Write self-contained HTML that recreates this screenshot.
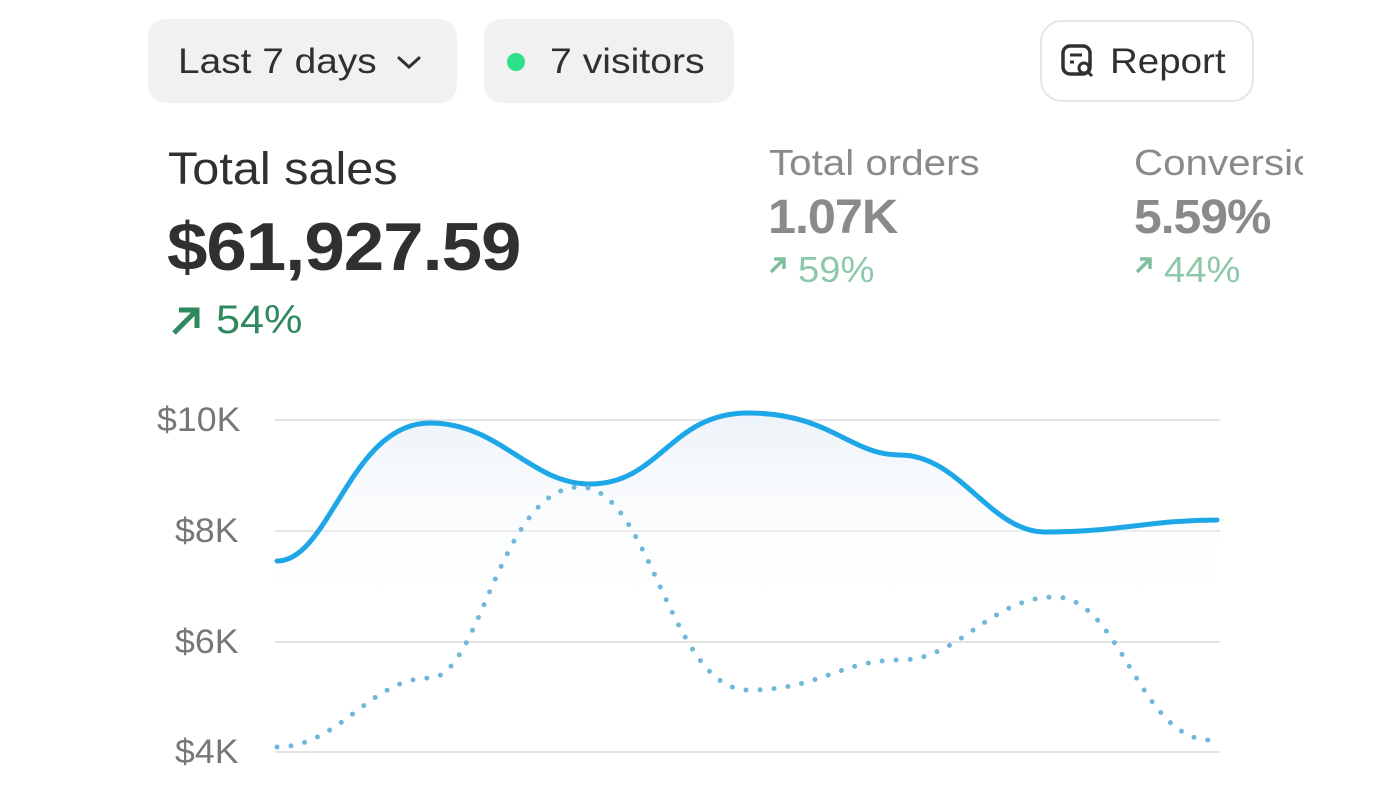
<!DOCTYPE html>
<html><head><meta charset="utf-8"><style>
body{margin:0;width:1400px;height:787px;background:#fff;position:relative;overflow:hidden;font-family:"Liberation Sans",sans-serif;}
.a{position:absolute;white-space:nowrap;transform-origin:0 0;}
.pill{position:absolute;background:#f1f1f1;border-radius:18px;height:84px;top:19px;}
</style></head><body>
<div class="pill" style="left:148px;width:309px;"></div>
<div class="a" style="left:178px;top:42px;font-size:35px;color:#303030;transform:scaleX(1.11)">Last 7 days</div>
<svg class="a" style="left:396px;top:54px" width="28" height="18"><path d="M3 4 L13 13 L23 4" stroke="#303030" stroke-width="3" fill="none" stroke-linecap="round"/></svg>
<div class="pill" style="left:484px;width:250px;"></div>
<div class="a" style="left:507px;top:53px;width:18px;height:18px;border-radius:50%;background:#2ee08a;"></div>
<div class="a" style="left:550px;top:42px;font-size:35px;color:#303030;transform:scaleX(1.12)">7 visitors</div>
<div class="a" style="left:1040px;top:20px;width:214px;height:82px;border:2px solid #e6e6e6;border-radius:22px;box-sizing:border-box;"></div>
<svg class="a" style="left:1060px;top:43px" width="40" height="38"><rect x="3" y="3" width="27" height="28" rx="7" fill="none" stroke="#303030" stroke-width="3.5"/><line x1="10" y1="12" x2="22" y2="12" stroke="#303030" stroke-width="3"/><line x1="10" y1="19" x2="14" y2="19" stroke="#303030" stroke-width="3"/><circle cx="24" cy="25" r="5" fill="#fff" stroke="#303030" stroke-width="3"/><line x1="28" y1="29" x2="32" y2="33" stroke="#303030" stroke-width="3"/></svg>
<div class="a" style="left:1110px;top:42px;font-size:35px;color:#303030;transform:scaleX(1.1)">Report</div>

<div class="a" style="left:168px;top:143px;font-size:45px;color:#303030;transform:scaleX(1.08)">Total sales</div>
<div class="a" style="left:167px;top:208px;font-size:68px;font-weight:bold;color:#303030;letter-spacing:-1px;transform:scaleX(1.07)">$61,927.59</div>
<svg class="a" style="left:168px;top:304px" width="36" height="34"><path d="M6 29 L28 7 M11 6 L29 6 L29 24" stroke="#2e8a5e" stroke-width="5" fill="none"/></svg>
<div class="a" style="left:216px;top:298px;font-size:40px;color:#2e8a5e;transform:scaleX(1.08)">54%</div>

<div class="a" style="left:769px;top:142px;font-size:36px;color:#8a8a8a;transform:scaleX(1.12)">Total orders</div>
<div class="a" style="left:768px;top:190px;font-size:48px;font-weight:bold;color:#8a8a8a;letter-spacing:-1px;transform:scaleX(1.05)">1.07K</div>
<svg class="a" style="left:768px;top:255px" width="20" height="20"><path d="M3 17 L15 5 M6 4 L16 4 L16 14" stroke="#7fbfa0" stroke-width="3.5" fill="none"/></svg>
<div class="a" style="left:798px;top:249px;font-size:36px;color:#8fc8a9;transform:scaleX(1.06)">59%</div>

<div style="position:absolute;left:1134px;top:130px;width:169px;height:170px;overflow:hidden;">
<div class="a" style="left:0;top:12px;font-size:36px;color:#8a8a8a;transform:scaleX(1.12)">Conversion rate</div>
<div class="a" style="left:0;top:60px;font-size:48px;font-weight:bold;color:#8a8a8a;letter-spacing:-1px;transform:scaleX(1.04)">5.59%</div>
<svg class="a" style="left:0;top:125px" width="20" height="20"><path d="M3 17 L15 5 M6 4 L16 4 L16 14" stroke="#7fbfa0" stroke-width="3.5" fill="none"/></svg>
<div class="a" style="left:30px;top:119px;font-size:36px;color:#8fc8a9;transform:scaleX(1.06)">44%</div>
</div>

<div class="a" style="left:157px;top:401px;font-size:34px;color:#777;transform:scaleX(1.05)">$10K</div>
<div class="a" style="left:175px;top:512px;font-size:34px;color:#777;transform:scaleX(1.05)">$8K</div>
<div class="a" style="left:175px;top:623px;font-size:34px;color:#777;transform:scaleX(1.05)">$6K</div>
<div class="a" style="left:175px;top:733px;font-size:34px;color:#777;transform:scaleX(1.05)">$4K</div>

<svg class="a" style="left:0;top:0" width="1400" height="787">
<defs><linearGradient id="g" x1="0" y1="0" x2="0" y2="1"><stop offset="0" stop-color="#edf3f9"/><stop offset="1" stop-color="#fff" stop-opacity="0"/></linearGradient></defs>
<g stroke="#e4e4e4" stroke-width="2"><line x1="275" y1="420" x2="1220" y2="420"/><line x1="275" y1="531" x2="1220" y2="531"/><line x1="275" y1="642" x2="1220" y2="642"/><line x1="275" y1="752" x2="1220" y2="752"/></g>
<path d="M277 561 C330 561 350 423 430 423 C500 423 530 484 590 484 C660 484 670 413 748 413 C830 413 850 455 900 455 C960 455 990 532 1045 532 C1120 532 1150 520 1217 520 L1217 620 L277 620 Z" fill="url(#g)"/>
<path d="M277 561 C330 561 350 423 430 423 C500 423 530 484 590 484 C660 484 670 413 748 413 C830 413 850 455 900 455 C960 455 990 532 1045 532 C1120 532 1150 520 1217 520" fill="none" stroke="#1ea7e6" stroke-width="5" stroke-linecap="round"/>
<path d="M277 747 C340 747 370 678 430 678 C480 678 500 487 580 487 C650 487 670 690 748 690 C820 690 840 660 900 660 C960 660 990 597 1055 597 C1120 597 1140 740 1210 740" fill="none" stroke="#6fb8dc" stroke-width="5" stroke-linecap="round" stroke-dasharray="0 14"/>
</svg>
</body></html>
